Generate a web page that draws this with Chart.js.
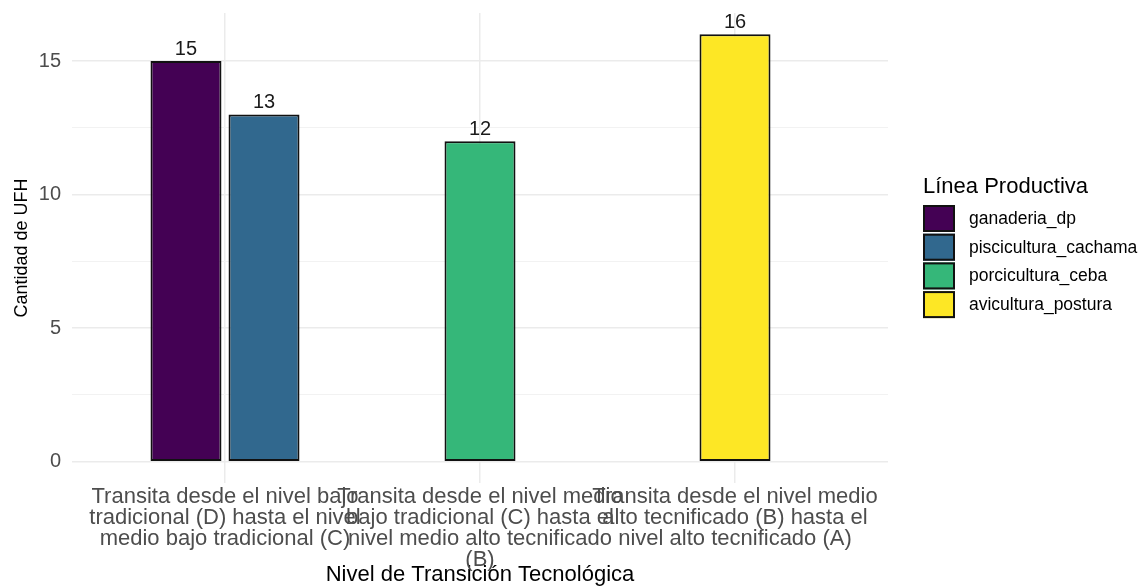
<!DOCTYPE html>
<html>
<head>
<meta charset="utf-8">
<script src="https://cdn.jsdelivr.net/npm/chart.js@4.4.1/dist/chart.umd.min.js"></script>
<style>
  html, body { margin: 0; padding: 0; background: #fff; }
  #wrap { width: 1141px; height: 586px; position: relative; }
</style>
</head>
<body>
<div id="wrap"><canvas id="chart" width="1141" height="586"></canvas></div>
<script>
// Niveles de transicion (eje x), una entrada por categoria, en lineas
const categorias = [
  ['Transita desde el nivel bajo', 'tradicional (D) hasta el nivel', 'medio bajo tradicional (C)'],
  ['Transita desde el nivel medio', 'bajo tradicional (C) hasta el', 'nivel medio alto tecnificado', '(B)'],
  ['Transita desde el nivel medio', 'alto tecnificado (B) hasta el', 'nivel alto tecnificado (A)']
];

// Lineas productivas y sus valores por categoria (null = sin barra)
const lineas = ['ganaderia_dp', 'piscicultura_cachama', 'porcicultura_ceba', 'avicultura_postura'];
const ganaderia = [15, null, null];
const piscicultura = [13, null, null];
const porcicultura = [null, 12, null];
const avicultura = [null, null, 16];
const colores = ['#440154', '#31688E', '#35B779', '#FDE725'];

const yTicks = [0, 5, 10, 15];
const yMinor = [2.5, 7.5, 12.5];

const series = [ganaderia, piscicultura, porcicultura, avicultura];
const fuente = '"Liberation Sans", Arial, sans-serif';

const datasets = series.map((vals, i) => ({
  label: lineas[i],
  data: vals.map((v, k) => ({ x: k, y: v })),
  backgroundColor: colores[i],
  borderColor: '#111111',
  borderWidth: 2,
  borderSkipped: false,
  categoryPercentage: 0.612,
  barPercentage: 0.91,
  maxBarThickness: 71
}));

// etiquetas de valor encima de cada barra
const etiquetas = {
  id: 'etiquetas',
  afterDatasetsDraw(chart) {
    const ctx = chart.ctx;
    ctx.save();
    ctx.font = '20px ' + fuente;
    ctx.fillStyle = '#1a1a1a';
    ctx.textAlign = 'center';
    ctx.textBaseline = 'alphabetic';
    chart.data.datasets.forEach((ds, i) => {
      const meta = chart.getDatasetMeta(i);
      meta.data.forEach((bar, k) => {
        const v = ds.data[k].y;
        if (v === null) return;
        ctx.fillText(String(v), bar.x, bar.y - 6);
      });
    });
    ctx.restore();
  }
};

// leyenda a la derecha, estilo ggplot
const leyenda = {
  id: 'leyenda',
  afterDraw(chart) {
    const ctx = chart.ctx;
    const x0 = 923, y0 = 205, paso = 28.7;
    ctx.save();
    ctx.fillStyle = '#000';
    ctx.textAlign = 'left';
    ctx.textBaseline = 'middle';
    ctx.font = '22px ' + fuente;
    ctx.fillText('Línea Productiva', x0, 187);
    ctx.font = '17.5px ' + fuente;
    chart.data.datasets.forEach((ds, i) => {
      const y = y0 + i * paso;
      ctx.fillStyle = ds.backgroundColor;
      ctx.fillRect(x0, y, 32, 27);
      ctx.lineWidth = 2;
      ctx.strokeStyle = '#111';
      ctx.strokeRect(x0 + 1, y + 1, 30, 25);
      ctx.fillStyle = '#000';
      ctx.fillText(ds.label, x0 + 46, y + 14);
    });
    ctx.restore();
  }
};

new Chart(document.getElementById('chart'), {
  type: 'bar',
  data: { datasets },
  plugins: [etiquetas, leyenda],
  options: {
    responsive: false,
    animation: false,
    skipNull: true,
    layout: { padding: { top: 13, right: 253, bottom: 0, left: 0 } },
    plugins: {
      legend: { display: false },
      tooltip: { enabled: false }
    },
    scales: {
      x: {
        type: 'linear',
        min: -0.6,
        max: 2.6,
        offset: false,
        afterBuildTicks: (s) => { s.ticks = categorias.map((c, i) => ({ value: i })); },
        afterFit: (s) => { s.height = 103; s.paddingLeft = 0; s.paddingRight = 0; },
        border: { display: false },
        grid: { color: '#EBEBEB', lineWidth: 1.5, drawTicks: false, offset: false },
        ticks: {
          autoSkip: false,
          maxRotation: 0,
          padding: 3.5,
          color: '#4D4D4D',
          font: { family: fuente, size: 22, lineHeight: 0.955 },
          callback: (v) => categorias[v]
        },
        title: {
          display: true,
          text: 'Nivel de Transición Tecnológica',
          color: '#000',
          font: { family: fuente, size: 22, lineHeight: 1 },
          padding: { top: 0, bottom: 0 }
        }
      },
      y: {
        min: -0.8,
        max: 16.8,
        afterBuildTicks: (s) => {
          s.ticks = yTicks.concat(yMinor).sort((a, b) => a - b).map(v => ({ value: v }));
        },
        afterFit: (s) => { s.width = 72; s.paddingTop = 0; s.paddingBottom = 0; },
        border: { display: false },
        grid: {
          drawTicks: false,
          color: (c) => yTicks.includes(c.tick.value) ? '#EBEBEB' : '#F2F2F2',
          lineWidth: (c) => yTicks.includes(c.tick.value) ? 1.5 : 1
        },
        ticks: {
          autoSkip: false,
          padding: 11,
          color: '#4D4D4D',
          font: { family: fuente, size: 20 },
          callback: (v) => yTicks.includes(v) ? String(v) : ''
        },
        title: {
          display: true,
          text: 'Cantidad de UFH',
          color: '#000',
          font: { family: fuente, size: 18, lineHeight: 1.2 },
          padding: { top: 11, bottom: 0 }
        }
      }
    }
  }
});
</script>
</body>
</html>
